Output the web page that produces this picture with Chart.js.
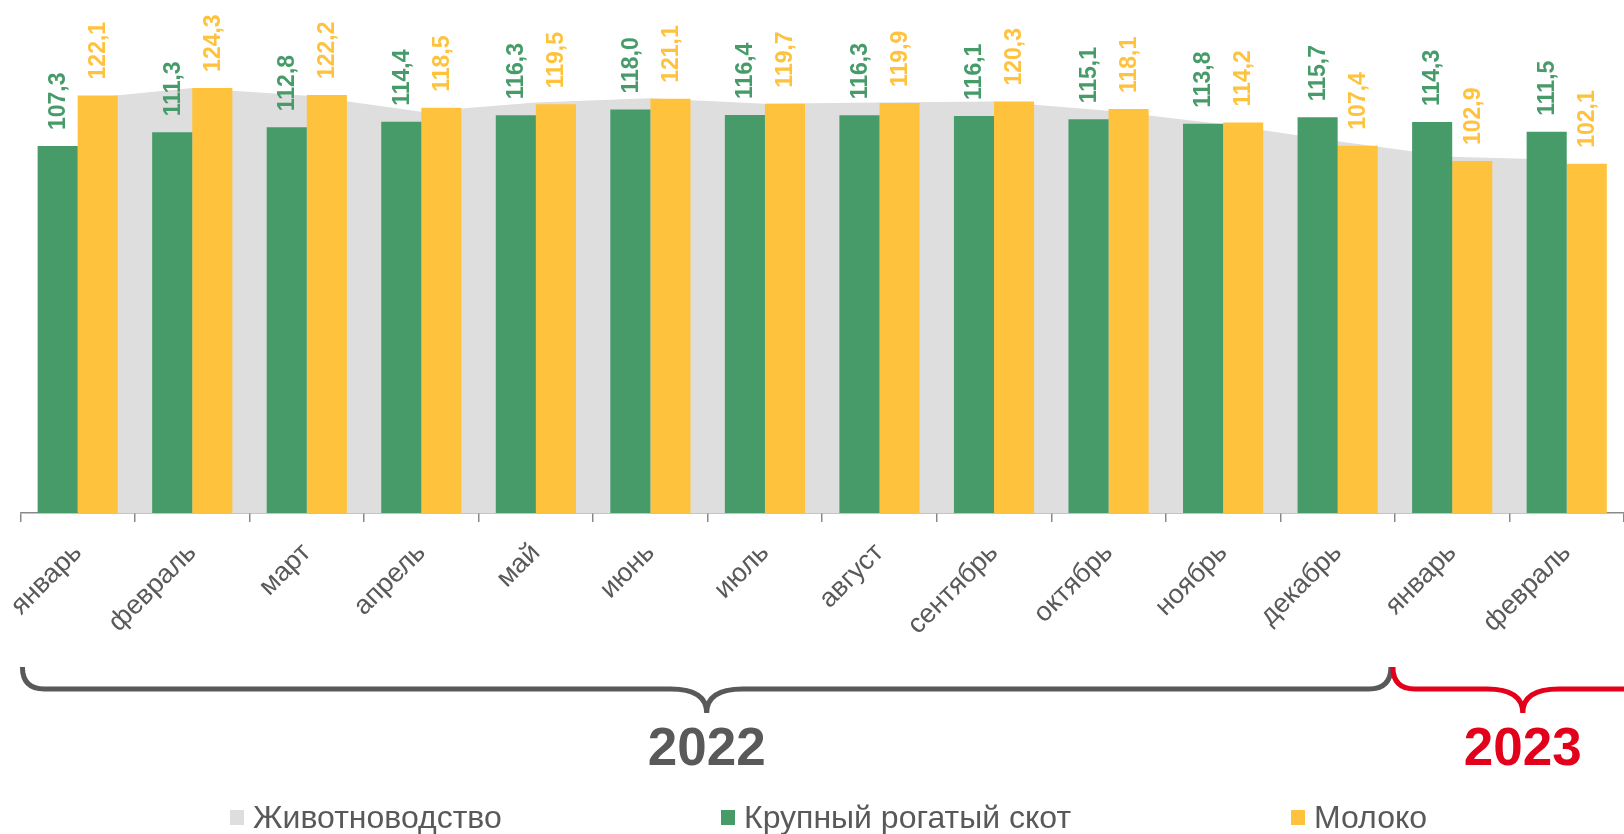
<!DOCTYPE html>
<html lang="ru">
<head>
<meta charset="utf-8">
<title>Животноводство, КРС, молоко</title>
<script src="https://cdn.jsdelivr.net/npm/chart.js@4.4.1/dist/chart.umd.min.js"></script>
<style>
  html, body { margin: 0; padding: 0; background: #fff; }
  #wrap { position: relative; width: 1624px; height: 834px; }
  #legend {
    position: absolute; left: 0; top: 799px; width: 1624px; height: 36px;
    font-family: "Liberation Sans", Arial, sans-serif; font-size: 32px; color: #595959;
  }
  .item { position: absolute; top: 0; height: 36px; display: flex; align-items: center; white-space: nowrap; }
  .box { width: 14px; height: 15px; margin-right: 9px; }
</style>
</head>
<body>
<div id="wrap">
  <canvas id="grafico"></canvas>
  <div id="legend"></div>
</div>
<script>
const months = ["январь", "февраль", "март", "апрель", "май", "июнь", "июль",
  "август", "сентябрь", "октябрь", "ноябрь", "декабрь", "январь", "февраль"];
const years = ["2022", "2023"];
const seriesNames = ["Животноводство", "Крупный рогатый скот", "Молоко"];

// values (grey area is estimated)
const zhivotnovodstvo = [121.0, 124.3, 122.0, 117.3, 120.0, 121.3, 119.7, 120.0, 120.3, 117.6, 113.7, 108.7, 104.2, 103.2];
const krs = [107.3, 111.3, 112.8, 114.4, 116.3, 118.0, 116.4, 116.3, 116.1, 115.1, 113.8, 115.7, 114.3, 111.5];
const moloko = [122.1, 124.3, 122.2, 118.5, 119.5, 121.1, 119.7, 119.9, 120.3, 118.1, 114.2, 107.4, 102.9, 102.1];

const colors = ["#DEDEDE", "#469B69", "#FFC23D"];
const grey = "#595959";
const red = "#E2001A";
const fontFamily = '"Liberation Sans", Arial, sans-serif';

Chart.defaults.font.family = fontFamily;

function fmt(v) {
  return v.toFixed(1).replace(".", ",");
}

// подписи над столбцами
const barLabels = {
  id: "barLabels",
  afterDatasetsDraw(chart) {
    const ctx = chart.ctx;
    chart.data.datasets.forEach((ds, i) => {
      if (ds.type === "line") return;
      const meta = chart.getDatasetMeta(i);
      meta.data.forEach((bar, j) => {
        ctx.save();
        ctx.translate(bar.x + 1, bar.y - 16);
        ctx.rotate(-Math.PI / 2);
        ctx.font = "bold 23px " + fontFamily;
        ctx.fillStyle = ds.backgroundColor;
        ctx.textAlign = "left";
        ctx.textBaseline = "middle";
        ctx.fillText(fmt(ds.data[j]), 0, 0);
        ctx.restore();
      });
    });
  }
};

function drawBrace(ctx, x0, x1, top, color, text) {
  const mid = top + 22;
  const bot = top + 46;
  const c = (x0 + x1) / 2;
  const r = 22;
  ctx.save();
  ctx.strokeStyle = color;
  ctx.lineWidth = 5;
  ctx.beginPath();
  ctx.moveTo(x0, top);
  ctx.quadraticCurveTo(x0, mid, x0 + r, mid);
  ctx.lineTo(c - 36, mid);
  ctx.quadraticCurveTo(c, mid, c, bot);
  ctx.quadraticCurveTo(c, mid, c + 36, mid);
  ctx.lineTo(x1 - r, mid);
  ctx.quadraticCurveTo(x1, mid, x1, top);
  ctx.stroke();
  ctx.fillStyle = color;
  ctx.font = "bold 53px " + fontFamily;
  ctx.textAlign = "center";
  ctx.textBaseline = "alphabetic";
  ctx.fillText(text, c, top + 98);
  ctx.restore();
}

// фигурные скобки с годами
const yearBraces = {
  id: "yearBraces",
  afterDraw(chart) {
    const x = chart.scales.x;
    const w = x.getPixelForValue(1) - x.getPixelForValue(0);
    const edge = (i) => x.getPixelForValue(0) - w / 2 + i * w;
    const top = chart.chartArea.bottom + 154;
    drawBrace(chart.ctx, edge(0) + 2, edge(12) - 4, top, grey, years[0]);
    drawBrace(chart.ctx, edge(12) - 2, edge(12) + 2.25 * w, top, red, years[1]);
  }
};

new Chart(document.getElementById("grafico"), {
  type: "bar",
  data: {
    labels: months,
    datasets: [
      {
        type: "line",
        label: seriesNames[0],
        data: zhivotnovodstvo,
        backgroundColor: colors[0],
        borderColor: colors[0],
        borderWidth: 0,
        pointRadius: 0,
        tension: 0,
        fill: "origin",
        order: 2
      },
      {
        label: seriesNames[1],
        data: krs,
        backgroundColor: colors[1],
        barPercentage: 1,
        categoryPercentage: 0.7,
        order: 1
      },
      {
        label: seriesNames[2],
        data: moloko,
        backgroundColor: colors[2],
        barPercentage: 1,
        categoryPercentage: 0.7,
        order: 1
      }
    ]
  },
  options: {
    responsive: true,
    maintainAspectRatio: false,
    animation: false,
    layout: { padding: { left: 20, right: 0, top: 0, bottom: 0 } },
    plugins: {
      legend: { display: false },
      tooltip: { enabled: false }
    },
    scales: {
      x: {
        grid: {
          display: true,
          drawOnChartArea: false,
          tickLength: 9,
          color: "#898989",
          lineWidth: 1.5
        },
        border: { color: "#898989", width: 1.5 },
        ticks: {
          color: grey,
          font: { size: 27 },
          minRotation: 45,
          maxRotation: 45,
          autoSkip: false,
          padding: 15
        },
        afterFit(scale) {
          scale.height = 321;
        }
      },
      y: { display: false, min: 0, max: 150 }
    }
  },
  plugins: [barLabels, yearBraces]
});

// легенда
const legendPos = [230, 721, 1291];
const legend = document.getElementById("legend");
seriesNames.forEach((name, i) => {
  const item = document.createElement("div");
  item.className = "item";
  item.style.left = legendPos[i] + "px";
  item.innerHTML = '<span class="box" style="background:' + colors[i] + '"></span><span>' + name + "</span>";
  legend.appendChild(item);
});
</script>
</body>
</html>
